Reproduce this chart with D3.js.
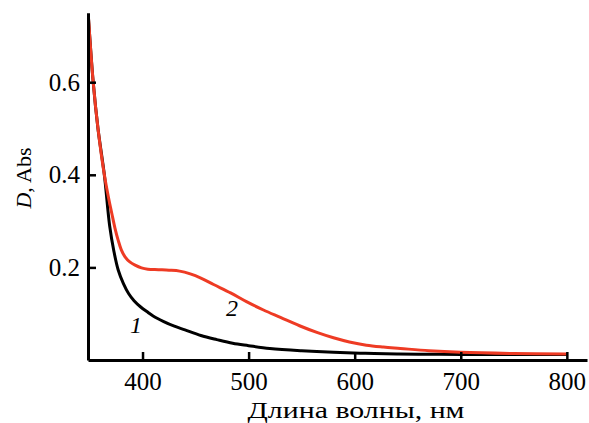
<!DOCTYPE html>
<html>
<head>
<meta charset="utf-8">
<script src="https://cdn.jsdelivr.net/npm/d3@7"></script>
<style>
  body { margin: 0; background: #fff; }
  text { font-family: "Liberation Serif", "Times New Roman", serif; }
</style>
</head>
<body>
<svg id="chart" width="589" height="423"></svg>
<script>
// spectrum 1 (black)
var wl1 = [349, 353.5, 358, 364, 369, 373, 377, 382, 387, 392, 398, 405, 410, 420, 430, 440, 455, 470, 485, 500, 520, 550, 580, 610, 640, 670, 700, 750, 800];
var abs1 = [0.74, 0.60, 0.50, 0.40, 0.29, 0.235, 0.195, 0.165, 0.143, 0.128, 0.115, 0.103, 0.095, 0.083, 0.073, 0.065, 0.053, 0.044, 0.036, 0.031, 0.025, 0.020, 0.0166, 0.0145, 0.013, 0.0125, 0.012, 0.012, 0.012];

// spectrum 2 (red)
var wl2 = [349, 353.5, 358, 364, 368, 371, 374, 377, 380, 383.5, 388, 393, 399, 405, 415, 425, 435, 445, 455, 467, 483, 498, 514, 530, 548, 565, 580, 595, 611, 627, 643, 670, 700, 750, 800];
var abs2 = [0.74, 0.60, 0.50, 0.40, 0.35, 0.317, 0.285, 0.259, 0.238, 0.223, 0.212, 0.205, 0.199, 0.196, 0.195, 0.194, 0.192, 0.186, 0.177, 0.163, 0.145, 0.126, 0.108, 0.092, 0.074, 0.059, 0.048, 0.039, 0.032, 0.028, 0.025, 0.020, 0.0166, 0.014, 0.013];

var xTicks = [400, 500, 600, 700, 800];
var yTicks = [0.2, 0.4, 0.6];

var svg = d3.select("#chart");

var x = d3.scaleLinear().domain([348.6, 819]).range([88, 587]);
var y = d3.scaleLinear().domain([0, 0.75]).range([360, 12.75]);

function pts(wl, ab) {
    return wl.map(function (w, i) { return [w, ab[i]]; });
}

var line = d3.line()
    .x(function (d) { return x(d[0]); })
    .y(function (d) { return y(d[1]); })
    .curve(d3.curveCatmullRom.alpha(0.5));

svg.append("path")
    .attr("d", line(pts(wl1, abs1)))
    .attr("fill", "none")
    .attr("stroke", "#000")
    .attr("stroke-width", 3);

svg.append("path")
    .attr("d", line(pts(wl2, abs2)))
    .attr("fill", "none")
    .attr("stroke", "#ee3b24")
    .attr("stroke-width", 3);

var xAxis = svg.append("g")
    .attr("transform", "translate(0,360)")
    .call(d3.axisBottom(x).tickValues(xTicks).tickSize(-8).tickSizeOuter(0).tickPadding(12));

var yAxis = svg.append("g")
    .attr("transform", "translate(88,0)")
    .call(d3.axisLeft(y).tickValues(yTicks).tickFormat(d3.format(".1f")).tickSize(-8).tickSizeOuter(0).tickPadding(8));

[xAxis, yAxis].forEach(function (g) {
    g.select(".domain").attr("stroke-width", 3);
    g.selectAll(".tick line").attr("stroke-width", 2.5);
    g.selectAll(".tick text").attr("font-size", 25).attr("font-family", "Liberation Serif");
});

svg.append("text")
    .attr("x", 356)
    .attr("y", 418)
    .attr("text-anchor", "middle")
    .attr("font-size", 24)
    .attr("textLength", 217)
    .attr("lengthAdjust", "spacingAndGlyphs")
    .text("Длина волны, нм");

var yl = svg.append("text")
    .attr("transform", "translate(31,178) rotate(-90)")
    .attr("text-anchor", "middle")
    .attr("font-size", 22);
yl.append("tspan").attr("font-style", "italic").text("D");
yl.append("tspan").text(", Abs");

svg.append("text")
    .attr("x", 136).attr("y", 333)
    .attr("text-anchor", "middle")
    .attr("font-size", 24)
    .attr("font-style", "italic")
    .text("1");

svg.append("text")
    .attr("x", 232).attr("y", 316)
    .attr("text-anchor", "middle")
    .attr("font-size", 24)
    .attr("font-style", "italic")
    .text("2");
</script>
</body>
</html>
